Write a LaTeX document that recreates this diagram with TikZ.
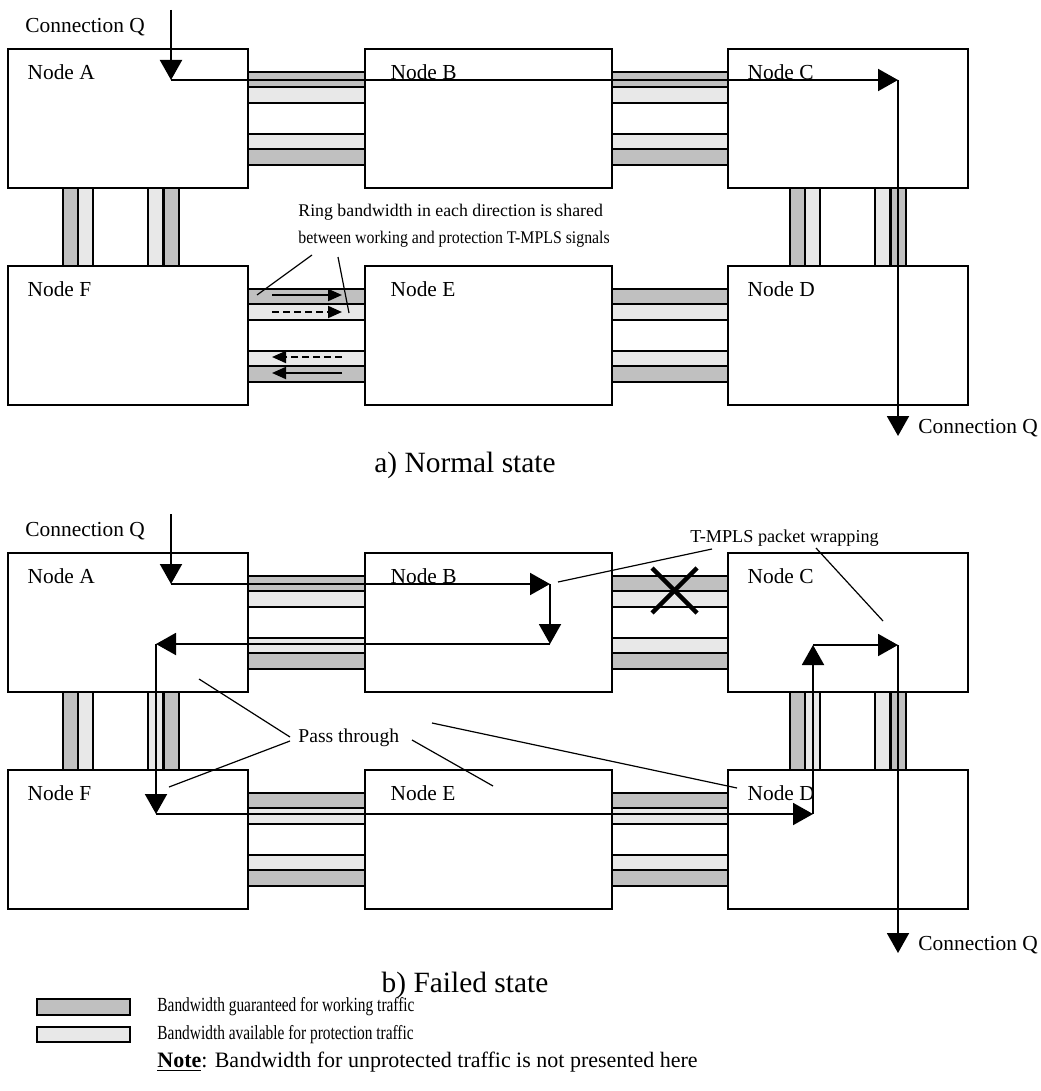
\documentclass[tikz,border=0pt]{standalone}
\usepackage{fontspec}
\setmainfont{Liberation Serif}
\newfontfamily\legendfont[FakeStretch=0.77]{Liberation Serif}
\usetikzlibrary{arrows.meta,positioning}
\definecolor{workgrey}{RGB}{192,192,192}
\definecolor{protgrey}{RGB}{232,232,232}
\tikzset{
  ringnode/.style={draw, line width=0.8pt, fill=white, minimum width=120pt, minimum height=69.5pt, inner sep=0pt},
  nodename/.style={inner sep=0pt, font=\fontsize{10.7}{12}\selectfont},
  workbar/.style={draw, line width=0.8pt, fill=workgrey},
  protbar/.style={draw, line width=0.8pt, fill=protgrey},
  flow/.style={line width=1pt, -{Triangle[length=10pt,width=11pt]}},
  smallflow/.style={line width=1pt, -{Triangle[length=7pt,width=6pt]}},
  pointer/.style={line width=0.6pt},
  note/.style={inner sep=0pt, font=\fontsize{8.9}{13.5}\selectfont},
  caption/.style={inner sep=0pt, font=\fontsize{14.7}{17}\selectfont},
  legendtext/.style={inner sep=0pt, anchor=west, font=\legendfont\fontsize{10}{12}\selectfont}
}
\begin{document}
\begin{tikzpicture}[x=0.5pt,y=-0.5pt]
\useasboundingbox (0,0) rectangle (1040,1091);

% link bandwidth bars, both states
\foreach \oy in {0,504} {
  \foreach \lx/\rx in {248/365, 612/728} {
    \foreach \ry in {49,266} {
      \draw[workbar] (\lx,\ry+\oy+23) rectangle (\rx,\ry+\oy+38);
      \draw[protbar] (\lx,\ry+\oy+38) rectangle (\rx,\ry+\oy+54);
      \draw[protbar] (\lx,\ry+\oy+85) rectangle (\rx,\ry+\oy+100);
      \draw[workbar] (\lx,\ry+\oy+100) rectangle (\rx,\ry+\oy+116);
    }
  }
  \foreach \bx in {63,164,790,891}
    \draw[workbar] (\bx,188+\oy) rectangle (\bx+15,266+\oy);
  \foreach \bx in {78,148,805,875}
    \draw[protbar] (\bx,188+\oy) rectangle (\bx+15,266+\oy);
}

% a) normal state
\node[ringnode] (na) at (128,118.5) {};
\node[ringnode, minimum width=123.5pt] (nb) at (488.5,118.5) {};
\node[ringnode] (nc) at (848,118.5) {};
\node[ringnode] (nf) at (128,335.5) {};
\node[ringnode, minimum width=123.5pt] (ne) at (488.5,335.5) {};
\node[ringnode] (nd) at (848,335.5) {};

\node[nodename, below right=8pt and 10pt of na.north west] (naname) {Node A};
\node[nodename, below right=8pt and 13pt of nb.north west] (nbname) {Node B};
\node[nodename, below right=8pt and 10pt of nc.north west] (ncname) {Node C};
\node[nodename, below right=8pt and 10pt of nf.north west] (nfname) {Node F};
\node[nodename, below right=8pt and 13pt of ne.north west] (nename) {Node E};
\node[nodename, below right=8pt and 10pt of nd.north west] (ndname) {Node D};

\node[nodename, anchor=west] (nqin) at (25,27) {Connection Q};
\node[nodename, anchor=west] (nqout) at (918,428) {Connection Q};

\coordinate (nq0) at (171,10);
\coordinate (nq1) at (171,80);
\coordinate (nq2) at (898,80);
\coordinate (nq3) at (898,436);
\draw[flow] (nq0) -- (nq1);
\draw[flow] (nq1) -- (nq2);
\draw[flow] (nq2) -- (nq3);

\draw[smallflow] (272,295) -- (342,295);
\draw[smallflow, dash pattern=on 3.5pt off 2pt] (272,312) -- (342,312);
\draw[smallflow, dash pattern=on 3.5pt off 2pt] (342,357) -- (272,357);
\draw[smallflow] (342,373) -- (272,373);

\node[note, anchor=west, align=left] (ringtext) at (298,226) {Ring bandwidth in each direction is shared\\\scalebox{0.89}[1]{between working and protection T-MPLS signals}};
\coordinate (ring1a) at (312,255);
\coordinate (ring1b) at (257,295);
\coordinate (ring2a) at (338,257);
\coordinate (ring2b) at (349,313);
\draw[pointer] (ring1a) -- (ring1b);
\draw[pointer] (ring2a) -- (ring2b);

\node[caption] (capa) at (465,465) {a) Normal state};

% b) failed state
\node[ringnode] (fa) at (128,622.5) {};
\node[ringnode, minimum width=123.5pt] (fb) at (488.5,622.5) {};
\node[ringnode] (fc) at (848,622.5) {};
\node[ringnode] (ff) at (128,839.5) {};
\node[ringnode, minimum width=123.5pt] (fe) at (488.5,839.5) {};
\node[ringnode] (fd) at (848,839.5) {};

\node[nodename, below right=8pt and 10pt of fa.north west] (faname) {Node A};
\node[nodename, below right=8pt and 13pt of fb.north west] (fbname) {Node B};
\node[nodename, below right=8pt and 10pt of fc.north west] (fcname) {Node C};
\node[nodename, below right=8pt and 10pt of ff.north west] (ffname) {Node F};
\node[nodename, below right=8pt and 13pt of fe.north west] (fename) {Node E};
\node[nodename, below right=8pt and 10pt of fd.north west] (fdname) {Node D};

\node[nodename, anchor=west] (fqin) at (25,531) {Connection Q};
\node[nodename, anchor=west] (fqout) at (918,945) {Connection Q};

% broken span B-C
\draw[line width=2.2pt] (652,568) -- (697,613);
\draw[line width=2.2pt] (697,568) -- (652,613);

\coordinate (fq0) at (171,514);
\coordinate (fq1) at (171,584);
\coordinate (fq2) at (550,584);
\coordinate (fq3) at (550,644);
\coordinate (fq4) at (156,644);
\coordinate (fq5) at (156,814);
\coordinate (fq6) at (813,814);
\coordinate (fq7) at (813,645);
\coordinate (fq8) at (898,645);
\coordinate (fq9) at (898,953);
\draw[flow] (fq0) -- (fq1);
\draw[flow] (fq1) -- (fq2);
\draw[flow] (fq2) -- (fq3);
\draw[flow] (fq3) -- (fq4);
\draw[flow] (fq4) -- (fq5);
\draw[flow] (fq5) -- (fq6);
\draw[flow] (fq6) -- (fq7);
\draw[flow] (fq7) -- (fq8);
\draw[flow] (fq8) -- (fq9);

\node[note, font=\fontsize{9.1}{12}\selectfont, anchor=west] (wraptext) at (690,538) {T-MPLS packet wrapping};
\coordinate (wrap1a) at (712,549);
\coordinate (wrap1b) at (558,582);
\coordinate (wrap2a) at (816,548);
\coordinate (wrap2b) at (883,621);
\draw[pointer] (wrap1a) -- (wrap1b);
\draw[pointer] (wrap2a) -- (wrap2b);

\node[note, font=\fontsize{9.8}{12}\selectfont, anchor=west] (passtext) at (298,738) {Pass through};
\coordinate (pass1a) at (290,737);
\coordinate (pass1b) at (199,679);
\coordinate (pass2a) at (290,741);
\coordinate (pass2b) at (169,787);
\coordinate (pass3a) at (412,740);
\coordinate (pass3b) at (493,786);
\coordinate (pass4a) at (432,723);
\coordinate (pass4b) at (737,788);
\draw[pointer] (pass1a) -- (pass1b);
\draw[pointer] (pass2a) -- (pass2b);
\draw[pointer] (pass3a) -- (pass3b);
\draw[pointer] (pass4a) -- (pass4b);

\node[caption] (capb) at (465,985) {b) Failed state};

% legend
\draw[workbar] (37,999) rectangle (130,1015);
\draw[protbar] (37,1027) rectangle (130,1042);
\node[legendtext] (legwork) at (157,1007) {Bandwidth guaranteed for working traffic};
\node[legendtext] (legprot) at (157,1035) {Bandwidth available for protection traffic};
\node[legendtext, font=\fontsize{11}{12}\selectfont] (legnote) at (157,1062) {\underline{\textbf{Note}}: Bandwidth for unprotected traffic is not presented here};
\end{tikzpicture}
\end{document}
